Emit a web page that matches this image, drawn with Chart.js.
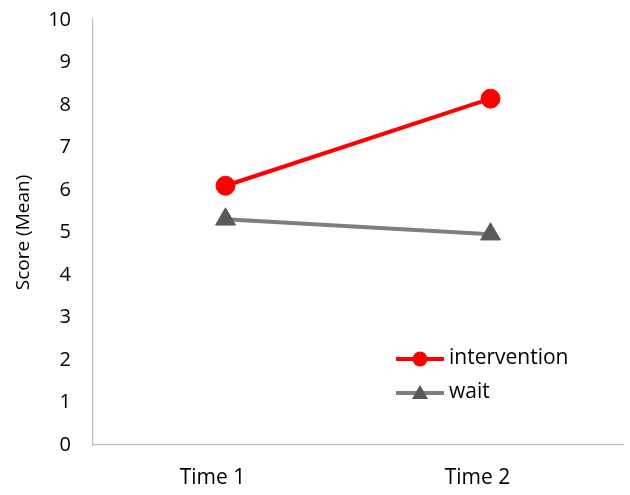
<!DOCTYPE html>
<html>
<head>
<meta charset="utf-8">
<script src="https://cdn.jsdelivr.net/npm/chart.js@4/dist/chart.umd.min.js"></script>
<style>
html,body{margin:0;padding:0;background:#fff;}
#wrap{width:630px;height:495px;}
</style>
</head>
<body>
<div id="wrap"><canvas id="c" width="630" height="495"></canvas></div>
<script>
const categories = ["Time 1", "Time 2"];
const interventionValues = [6.1, 8.15];
const waitValues = [5.31, 4.96];
const yTicks = [0, 1, 2, 3, 4, 5, 6, 7, 8, 9, 10];
const seriesNames = ["intervention", "wait"];

const FONT = "'Open Sans', sans-serif";

const insideLegend = {
  id: 'insideLegend',
  afterDatasetsDraw(chart) {
    const ctx = chart.ctx;
    const a = chart.chartArea;
    const x0 = a.right - 227;
    const rows = [a.top + 339, a.top + 373];
    chart.data.datasets.forEach((ds, i) => {
      const y = rows[i];
      ctx.save();
      ctx.strokeStyle = ds.borderColor;
      ctx.lineWidth = ds.borderWidth;
      ctx.beginPath();
      ctx.moveTo(x0, y);
      ctx.lineTo(x0 + 48, y);
      ctx.stroke();
      ctx.fillStyle = ds.pointBackgroundColor;
      ctx.beginPath();
      if (ds.pointStyle === 'triangle') {
        const r = 8;
        ctx.moveTo(x0 + 24, y - r);
        ctx.lineTo(x0 + 24 + r, y + r * 0.75);
        ctx.lineTo(x0 + 24 - r, y + r * 0.75);
        ctx.closePath();
      } else {
        ctx.arc(x0 + 24, y, 7.5, 0, Math.PI * 2);
      }
      ctx.fill();
      ctx.fillStyle = '#000';
      ctx.font = '21px ' + FONT;
      ctx.textBaseline = 'middle';
      ctx.textAlign = 'left';
      ctx.fillText(ds.label, x0 + 53, y - 1);
      ctx.restore();
    });
  }
};

new Chart(document.getElementById('c'), {
  type: 'line',
  data: {
    labels: categories,
    datasets: [
      {
        label: seriesNames[0],
        data: interventionValues,
        borderColor: '#ff0000',
        backgroundColor: '#ff0000',
        pointBackgroundColor: '#ff0000',
        pointBorderColor: '#ff0000',
        borderWidth: 4,
        pointStyle: 'circle',
        pointRadius: 9.5,
        pointBorderWidth: 1
      },
      {
        label: seriesNames[1],
        data: waitValues,
        borderColor: '#7f7f7f',
        backgroundColor: '#595959',
        pointBackgroundColor: '#595959',
        pointBorderColor: '#595959',
        borderWidth: 4,
        pointStyle: 'triangle',
        pointRadius: 11.5,
        pointBorderWidth: 1
      }
    ]
  },
  options: {
    responsive: false,
    animation: false,
    layout: { autoPadding: false, padding: { left: 0, right: 7, top: 20, bottom: 0 } },
    plugins: {
      legend: { display: false },
      tooltip: { enabled: false }
    },
    scales: {
      x: {
        type: 'category',
        offset: true,
        grid: { display: false, drawTicks: false },
        border: { display: true, color: '#bfbfbf', width: 1.3 },
        ticks: {
          color: '#000',
          font: { family: FONT, size: 21 },
          padding: 20,
          labelOffset: -13,
          maxRotation: 0
        },
        afterFit(s) { s.height = 50; s.paddingLeft = 0; s.paddingRight = 0; }
      },
      y: {
        min: 0,
        max: 10,
        afterBuildTicks(s) { s.ticks = yTicks.map(v => ({ value: v })); },
        grid: { display: false, drawTicks: false },
        border: { display: true, color: '#bfbfbf', width: 1.3 },
        ticks: {
          color: '#000',
          font: { family: FONT, size: 20 },
          padding: 22
        },
        title: {
          display: true,
          text: 'Score (Mean)',
          color: '#000',
          font: { family: FONT, size: 19 },
          padding: { top: 12, bottom: 0 }
        },
        afterFit(s) { s.width = 93; s.paddingTop = 0; s.paddingBottom = 0; }
      }
    }
  },
  plugins: [insideLegend]
});
</script>
</body>
</html>
